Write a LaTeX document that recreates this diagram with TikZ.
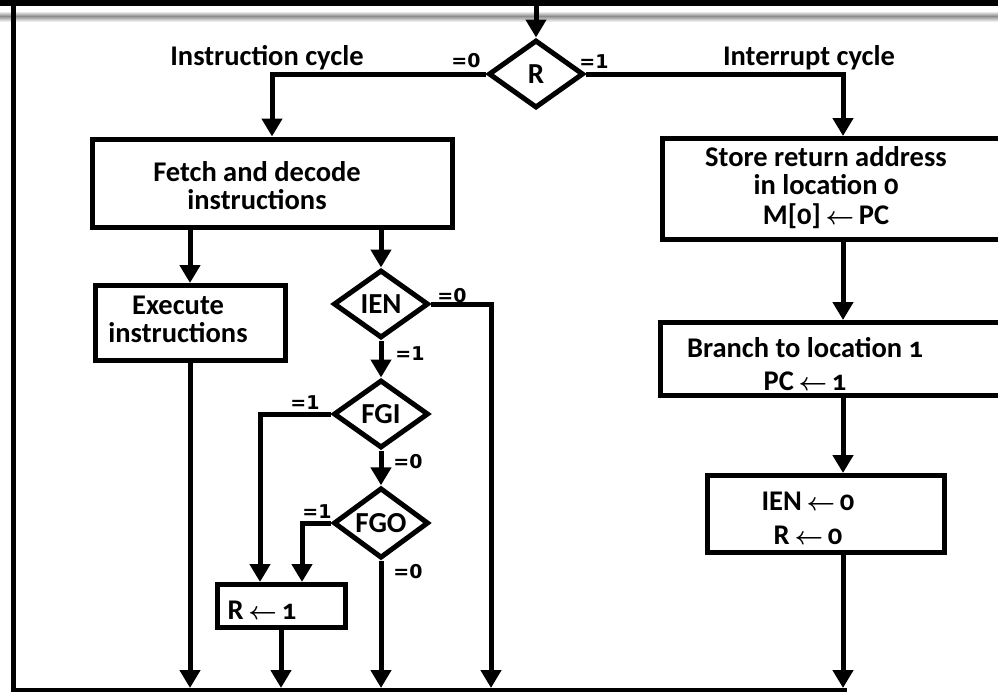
\documentclass[tikz,border=0pt]{standalone}
\usepackage{amsmath}
\usepackage{fontspec}
\setmainfont{Carlito}[Numbers=OldStyle]
\newfontfamily\lblfont{DejaVu Sans}
\newcommand{\getsto}{\,$\boldsymbol{\leftarrow}$\,}
\usepackage{tikz}
\usetikzlibrary{shapes.geometric}
\usetikzlibrary{arrows.meta}

\begin{document}
\begin{tikzpicture}[x=1pt,y=-1pt,line width=5pt,
    box/.style={draw, rectangle, inner sep=0pt},
    dec/.style={draw, diamond, inner sep=0pt, minimum width=95pt, minimum height=68pt,
      font=\fontsize{29}{28}\selectfont\bfseries},
    txt/.style={font=\fontsize{28.5}{28}\selectfont\bfseries, align=center, inner sep=0pt},
    lbl/.style={font=\lblfont\fontsize{19}{20}\selectfont\bfseries, inner sep=0pt},
    flow/.style={-{Triangle[width=20pt,length=18pt]}}]
    \useasboundingbox (0,0) rectangle (998,694);
    % slide frame
    \fill (0,0) rectangle (998,6);
    \shade[top color=white, bottom color=black!45, draw=none] (0,11) rectangle (998,16);
    \shade[top color=black!45, bottom color=white, draw=none] (0,16) rectangle (998,22);
    \draw (13,3) -- (13,692);
    \draw[line width=4pt] (11,690) -- (847,690);
    %
    % Decisions
    \node[dec] (rdec) at (536,74) {R};
    \node[dec] (ien) at (381,304) {IEN};
    \node[dec] (fgi) at (381,414) {FGI};
    \node[dec] (fgo) at (381,523) {FGO};
    % Boxes
    \node[box, minimum width=360pt, minimum height=88pt] (fetch) at (272,183) {};
    \node[box, minimum width=190pt, minimum height=75pt] (exec) at (190,323) {};
    \node[box, minimum width=128pt, minimum height=43pt] (rset) at (281,606) {};
    \node[box, minimum width=362pt, minimum height=101pt] (store) at (843,189) {};
    \node[box, minimum width=365pt, minimum height=73pt] (branch) at (843,359) {};
    \node[box, minimum width=237pt, minimum height=77pt] (ienz) at (826,514) {};
    % Texts
    \node[txt] (cyci) at (267,58) {Instruction cycle};
    \node[txt] (cycr) at (809,58) {Interrupt cycle};
    \node[txt] (fetchtxt) at (257,186) {Fetch and decode\\instructions};
    \node[txt] (exectxt) at (178,319) {Execute\\instructions};
    \node[txt] (rsettxt) at (262,610) {R\getsto 1};
    \node[txt] (storetxt) at (826,188) {Store return address\\in location 0\\[2pt]M[0]\getsto PC};
    \node[txt] (branchtxt) at (805,364) {Branch to location 1\\[5pt]PC\getsto 1};
    \node[txt] (ienztxt) at (808,518) {IEN\getsto 0\\[6pt]R\getsto 0};
    % Labels
    \node[lbl] (r0) at (466,61) {=0};
    \node[lbl] (r1) at (594,62) {=1};
    \node[lbl] (ien0) at (452,296) {=0};
    \node[lbl] (ien1) at (410,354) {=1};
    \node[lbl] (fgi1) at (305,403) {=1};
    \node[lbl] (fgi0) at (408,462) {=0};
    \node[lbl] (fgo1) at (317,512) {=1};
    \node[lbl] (fgo0) at (408,572) {=0};
    %
    % Free ends
    \coordinate (entry) at (536,6);
    \coordinate (bot) at (185,688);
    \coordinate (ienout) at (491,688);
    %
    % Control Flow Edges:
    \draw[flow] (entry) -- (rdec.north);
    \draw[flow] (rdec.west) -| (fetch.north);
    \draw[flow] (rdec.east) -| (store.north);
    \draw[flow] (fetch.south -| exec.north) -- (exec.north);
    \draw[flow] (fetch.south -| ien.north) -- (ien.north);
    \draw[flow] (ien.south) -- (fgi.north);
    \draw[flow] (ien.east) -| (ienout);
    \draw[flow] (fgi.south) -- (fgo.north);
    \draw[flow] (fgi.west) -| ([xshift=-21pt]rset.north);
    \draw[flow] (fgo.west) -| ([xshift=21pt]rset.north);
    \draw[flow] (fgo.south) -- (fgo.south |- bot);
    \draw[flow] (exec.south) -- (exec.south |- bot);
    \draw[flow] (rset.south) -- (rset.south |- bot);
    \draw[flow] (store.south) -- (branch.north);
    \draw[flow] (branch.south) -- (branch.south |- ienz.north);
    \draw[flow] (ienz.south -| branch.south) -- (branch.south |- bot);
\end{tikzpicture}
\end{document}
